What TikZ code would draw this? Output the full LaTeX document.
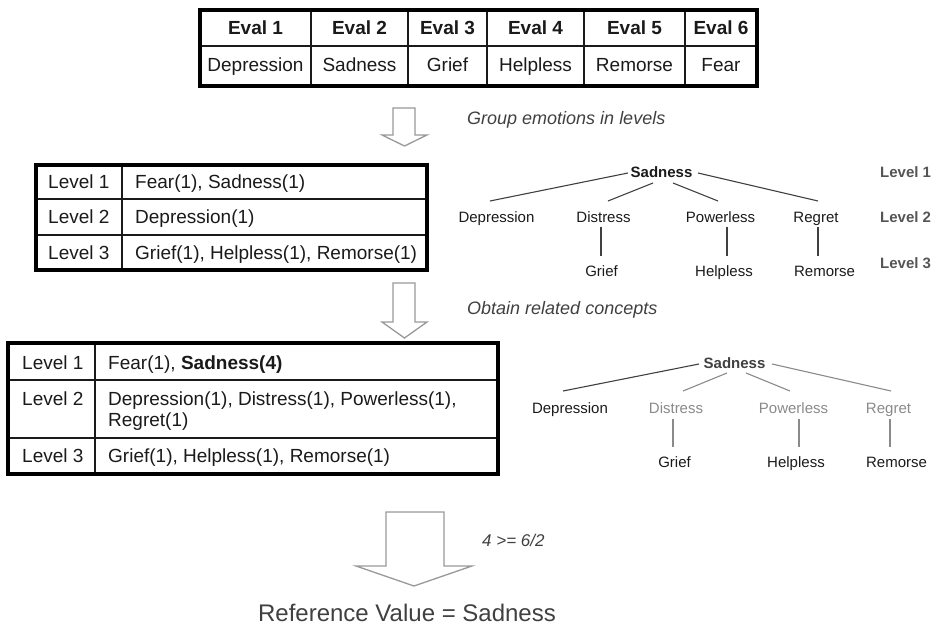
\documentclass[tikz,border=0pt]{standalone}
\usepackage{fontspec}
\setmainfont{Liberation Sans}
\usetikzlibrary{calc}
\definecolor{inkdark}{HTML}{1A1A1A}
\definecolor{inkgrey}{HTML}{555555}
\definecolor{inkmid}{HTML}{404040}
\definecolor{inklight}{HTML}{8A8A8A}
\definecolor{arrowline}{HTML}{999999}
\begin{document}
\begin{tikzpicture}[x=1pt,y=-1pt,
  cellc/.style={inner sep=0pt, anchor=base, text=inkdark, font=\fontsize{19}{22}\selectfont},
  cellh/.style={cellc, font=\fontsize{19}{22}\selectfont\bfseries},
  celll/.style={cellc, anchor=base west},
  treetxt/.style={inner sep=0pt, anchor=base, text=inkdark, font=\fontsize{15}{18}\selectfont},
  treeroot/.style={treetxt, font=\fontsize{15}{18}\selectfont\bfseries},
  lvl/.style={inner sep=0pt, anchor=base west, text=inkgrey, font=\fontsize{15}{18}\selectfont\bfseries},
  note/.style={inner sep=0pt, anchor=base west, text=inkmid, font=\fontsize{18}{22}\selectfont\itshape},
  frame/.style={line width=4pt, draw=black},
  rule/.style={line width=1.3pt, draw=inkdark},
  branch/.style={line width=1.1pt, draw=inkmid},
  branchlight/.style={line width=1.1pt, draw=inklight},
  bigarrow/.style={draw=arrowline, fill=white, line width=1.3pt, line join=miter}]

\useasboundingbox (0,0) rectangle (937,639);

% ---------- evaluations table ----------
\draw[rule] (200,46) -- (757,46);
\foreach \x in {311,408,487,584,685} \draw[rule] (\x,10) -- (\x,86);
\draw[frame] (200,10) rectangle (757,86);
\node[cellh] (e1) at (255.5,34.7) {Eval 1};
\node[cellh] (e2) at (359.5,34.7) {Eval 2};
\node[cellh] (e3) at (447.5,34.7) {Eval 3};
\node[cellh] (e4) at (535.5,34.7) {Eval 4};
\node[cellh] (e5) at (634.5,34.7) {Eval 5};
\node[cellh] (e6) at (721,34.7) {Eval 6};
\node[cellc] (v1) at (255.5,71.7) {Depression};
\node[cellc] (v2) at (359.5,71.7) {Sadness};
\node[cellc] (v3) at (447.5,71.7) {Grief};
\node[cellc] (v4) at (535.5,71.7) {Helpless};
\node[cellc] (v5) at (634.5,71.7) {Remorse};
\node[cellc] (v6) at (721,71.7) {Fear};

% ---------- first step ----------
\draw[bigarrow] (393,108) -- (415,108) -- (415,135) -- (427,135) -- (404.5,146)
  -- (382,135) -- (393,135) -- cycle;
\node[note] (step1) at (467,124.3) {Group emotions in levels};

% ---------- levels table ----------
\draw[rule] (36,199) -- (427,199);
\draw[rule] (36,235) -- (427,235);
\draw[rule] (122,165) -- (122,270);
\draw[frame] (36,165) rectangle (427,270);
\node[celll] (ma1) at (48,188.7) {Level 1};
\node[celll] (ma2) at (48,223.7) {Level 2};
\node[celll] (ma3) at (48,259.2) {Level 3};
\node[celll] (mb1) at (135,188.7) {Fear(1), Sadness(1)};
\node[celll] (mb2) at (135,223.7) {Depression(1)};
\node[celll] (mb3) at (135,259.2) {Grief(1), Helpless(1), Remorse(1)};

% ---------- first tree ----------
\node[treeroot] (s1) at (661.5,177.3) {Sadness};
\node[treetxt] (dep1) at (496.5,222.3) {Depression};
\node[treetxt] (dis1) at (603.5,222.3) {Distress};
\node[treetxt] (pow1) at (720.5,222.3) {Powerless};
\node[treetxt] (reg1) at (816,222.3) {Regret};
\node[treetxt] (gri1) at (601.5,276.3) {Grief};
\node[treetxt] (hel1) at (724,276.3) {Helpless};
\node[treetxt] (rem1) at (824.5,276.3) {Remorse};
\node[lvl] (lv1) at (880,177.3) {Level 1};
\node[lvl] (lv2) at (880,222.3) {Level 2};
\node[lvl] (lv3) at (880,268.3) {Level 3};
\coordinate (s1l) at (628,173);
\coordinate (s1r) at (698,173);
\coordinate (s1a) at (653,183);
\coordinate (s1b) at (673,183);
\coordinate (dep1t) at (490,201);
\coordinate (dis1t) at (608,201);
\coordinate (pow1t) at (718,201);
\coordinate (reg1t) at (818,201);
\draw[branch] (s1l) -- (dep1t);
\draw[branch] (s1a) -- (dis1t);
\draw[branch] (s1b) -- (pow1t);
\draw[branch] (s1r) -- (reg1t);
\draw[branch] (601,227) -- (601,256);
\draw[branch] (727,227) -- (727,256);
\draw[branch] (818,227) -- (818,256);

% ---------- second step ----------
\draw[bigarrow] (393,283) -- (415,283) -- (415,322) -- (427,322) -- (404.5,338)
  -- (382,322) -- (393,322) -- cycle;
\node[note] (step2) at (467,314.3) {Obtain related concepts};

% ---------- expanded levels table ----------
\draw[rule] (8,380) -- (498,380);
\draw[rule] (8,438) -- (498,438);
\draw[rule] (95,343) -- (95,474);
\draw[frame] (8,343) rectangle (498,474);
\node[celll] (ba1) at (22,369.7) {Level 1};
\node[celll] (ba2) at (22,405) {Level 2};
\node[celll] (ba3) at (22,462.7) {Level 3};
\node[celll] (bb1) at (108,369.7) {Fear(1), \textbf{Sadness(4)}};
\node[celll] (bb2) at (108,405) {Depression(1), Distress(1), Powerless(1),};
\node[celll] (bb2b) at (108,426) {Regret(1)};
\node[celll] (bb3) at (108,462.7) {Grief(1), Helpless(1), Remorse(1)};

% ---------- second tree ----------
\node[treeroot, text=inkmid] (s2) at (734.5,368.3) {Sadness};
\node[treetxt] (dep2) at (570,413.3) {Depression};
\node[treetxt, text=inklight] (dis2) at (676,413.3) {Distress};
\node[treetxt, text=inklight] (pow2) at (793.5,413.3) {Powerless};
\node[treetxt, text=inklight] (reg2) at (888.5,413.3) {Regret};
\node[treetxt] (gri2) at (674.5,467.3) {Grief};
\node[treetxt] (hel2) at (796,467.3) {Helpless};
\node[treetxt] (rem2) at (896.5,467.3) {Remorse};
\coordinate (s2l) at (699,364);
\coordinate (s2r) at (772,364);
\coordinate (s2a) at (727,373);
\coordinate (s2b) at (746,373);
\coordinate (dep2t) at (563,391);
\coordinate (dis2t) at (683,391);
\coordinate (pow2t) at (790,391);
\coordinate (reg2t) at (891,391);
\draw[branch] (s2l) -- (dep2t);
\draw[branchlight] (s2a) -- (dis2t);
\draw[branchlight] (s2b) -- (pow2t);
\draw[branchlight] (s2r) -- (reg2t);
\draw[branchlight] (673,419) -- (673,447);
\draw[branchlight] (799,419) -- (799,447);
\draw[branchlight] (890,419) -- (890,447);

% ---------- decision ----------
\draw[bigarrow] (386,512) -- (444,512) -- (444,566) -- (472,566) -- (414,586)
  -- (356,566) -- (386,566) -- cycle;
\node[note, font=\fontsize{17}{20}\selectfont\itshape] (rule) at (482,546) {4 >= 6/2};
\node[inner sep=0pt, anchor=base, text=inkmid, font=\fontsize{24}{28}\selectfont] (result)
  at (407,621) {Reference Value = Sadness};

\end{tikzpicture}
\end{document}
